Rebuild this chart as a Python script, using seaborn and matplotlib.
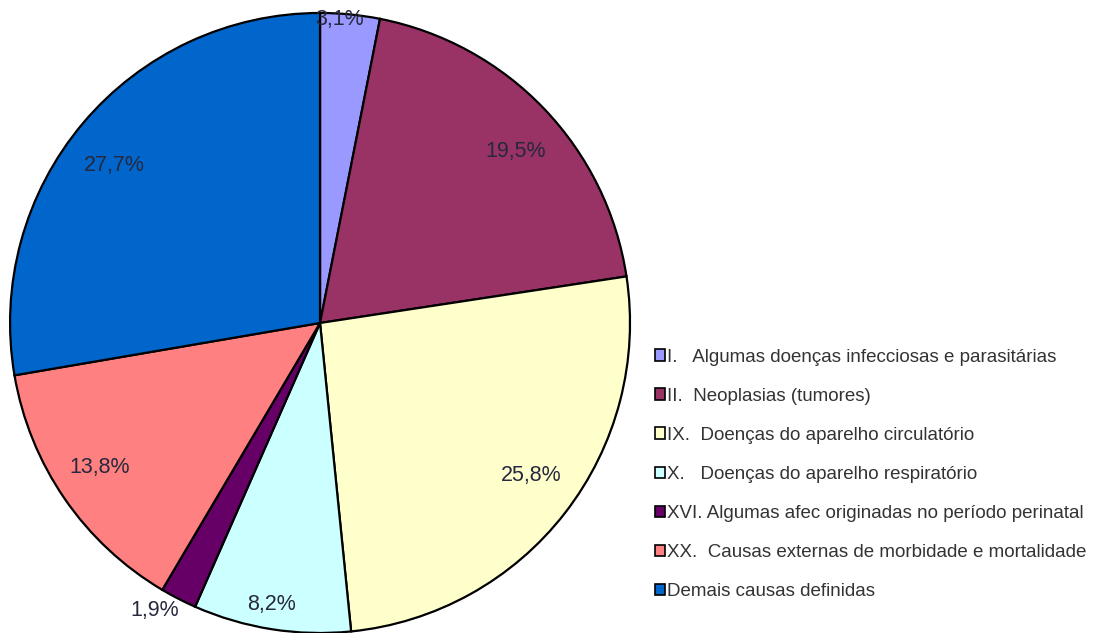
import matplotlib
matplotlib.use("Agg")
import matplotlib.pyplot as plt
from matplotlib.patches import Patch
import numpy as np
import seaborn as sns

sns.set_theme(style="white")
plt.rcParams['font.family'] = ['Liberation Sans', 'DejaVu Sans']

categories = [
    "I.   Algumas doenças infecciosas e parasitárias",
    "II.  Neoplasias (tumores)",
    "IX.  Doenças do aparelho circulatório",
    "X.   Doenças do aparelho respiratório",
    "XVI. Algumas afec originadas no período perinatal",
    "XX.  Causas externas de morbidade e mortalidade",
    "Demais causas definidas",
]
values = [3.1, 19.5, 25.8, 8.2, 1.9, 13.8, 27.7]
colors = ["#9999FF", "#993366", "#FFFFCC", "#CCFFFF", "#660066", "#FF8080", "#0066CC"]
# placement of each percentage label: fraction of radius and angular nudge (deg)
label_radius = [0.98, 0.84, 0.84, 0.92, 1.07, 0.85, 0.835]
label_nudge = [1.9, -2.5, 2.0, -0.7, -2.7, -1.4, 2.7]

fig = plt.figure(figsize=(10.93, 6.33), dpi=100)
ax = fig.add_axes([0.0092, 0.0, 0.5672, 0.9795])

wedges, _ = ax.pie(values, colors=colors, startangle=90, counterclock=False,
                   radius=1.0, wedgeprops=dict(edgecolor="black", linewidth=1.6))
ax.set_xlim(-1, 1)
ax.set_ylim(-1, 1)
ax.set_aspect("auto")
ax.axis("off")

for w, v, r, d in zip(wedges, values, label_radius, label_nudge):
    mid = np.deg2rad((w.theta1 + w.theta2) / 2 + d)
    ax.text(r * np.cos(mid), r * np.sin(mid), f"{v:.1f}%".replace(".", ","),
            ha="center", va="center", fontsize=15.5, color="#26283d", clip_on=False)

handles = [Patch(facecolor=c, edgecolor="black", linewidth=1.2) for c in colors]
fig.legend(handles, categories, loc="upper left", bbox_to_anchor=(0.599, 0.4494),
           frameon=False, fontsize=13.5, labelspacing=1.18, handlelength=0.55,
           handleheight=0.55, handletextpad=0.12, borderaxespad=0, borderpad=0,
           labelcolor="#333333")

fig.savefig("out.png", dpi=100, facecolor="white")
